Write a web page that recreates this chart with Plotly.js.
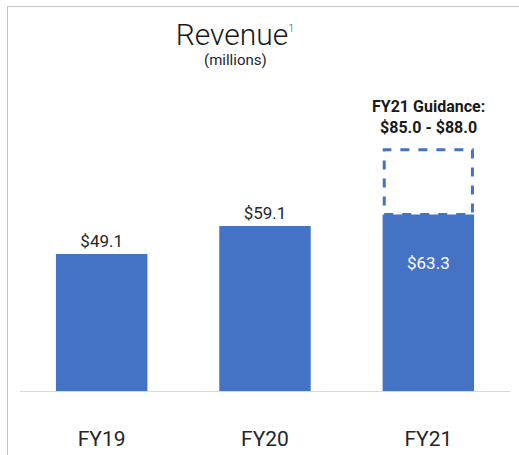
<!DOCTYPE html>
<html>
<head>
<meta charset="utf-8">
<script src="https://cdn.plot.ly/plotly-3.0.1.min.js"></script>
<style>
  html, body { margin: 0; padding: 0; background: #fff; }
  #wrap { position: relative; width: 519px; height: 455px; overflow: hidden; }
  #chart { position: absolute; left: 0; top: 0; width: 519px; height: 455px; }
  #frame { position: absolute; left: 7px; top: 6px; width: 520px; height: 460px;
           border-left: 1px solid #c4c4c4; border-top: 1px solid #c4c4c4; pointer-events: none; }
</style>
</head>
<body>
<div id="wrap">
  <div id="chart"></div>
  <div id="frame"></div>
</div>
<script>
// Data
const categories = ["FY19", "FY20", "FY21"];
const revenue = [49.1, 59.1, 63.3];
const revenueLabels = ["$49.1", "$59.1", "$63.3"];
const guidanceLow = 85.0;
const guidanceHigh = 88.0;
const guidanceCategory = "FY21";

const barColor = "#4472C4";
const font = "Roboto, 'Noto Sans', sans-serif";
const guidanceMid = (guidanceLow + guidanceHigh) / 2;
const guidanceIdx = categories.indexOf(guidanceCategory);
const barWidth = 0.56;

const trace = {
  type: "bar",
  x: categories,
  y: revenue,
  width: barWidth,
  marker: { color: barColor },
  text: revenueLabels,
  textposition: categories.map(c => c === guidanceCategory ? "none" : "outside"),
  textfont: { family: font, size: 17, color: "#262626" },
  cliponaxis: false,
  hoverinfo: "x+y"
};

const layout = {
  width: 519, height: 455,
  margin: { l: 20, r: 9, t: 112, b: 64 },
  paper_bgcolor: "#ffffff",
  plot_bgcolor: "#ffffff",
  showlegend: false,
  title: {
    text: "Revenue<sup><span style='font-size:11px;fill:#555'>1</span></sup>",
    font: { family: font, size: 30, color: "#1a1a1a", weight: 300 },
    xref: "container", yref: "container",
    x: 235 / 519, xanchor: "center",
    y: 1 - 34 / 455, yanchor: "middle"
  },
  xaxis: {
    type: "category",
    range: [-0.5, 2.5],
    showline: true, linecolor: "#d9d9d9", linewidth: 1,
    showgrid: false, zeroline: false,
    ticks: "",
    ticklabelstandoff: 29,
    tickfont: { family: font, size: 21, color: "#262626" }
  },
  yaxis: {
    range: [0, 100],
    visible: false,
    showgrid: false, zeroline: false, fixedrange: true
  },
  shapes: [{
    type: "rect",
    xref: "x", yref: "y",
    x0: guidanceIdx - barWidth / 2 + 0.01, x1: guidanceIdx + barWidth / 2 - 0.01,
    y0: revenue[guidanceIdx], y1: guidanceMid,
    line: { color: barColor, width: 3, dash: "dash" },
    fillcolor: "rgba(0,0,0,0)"
  }],
  annotations: [
    {
      text: "(millions)",
      xref: "paper", yref: "paper",
      x: (235 - 20) / 490, y: (391 - 60) / 279,
      xanchor: "center", yanchor: "middle",
      showarrow: false,
      font: { family: font, size: 15, color: "#262626" }
    },
    {
      text: "<b>FY21 Guidance:<br>$" + guidanceLow.toFixed(1) + " - $" + guidanceHigh.toFixed(1) + "</b>",
      xref: "x", yref: "y",
      x: guidanceCategory, y: guidanceMid,
      xanchor: "center", yanchor: "bottom",
      yshift: 11,
      showarrow: false,
      font: { family: font, size: 16, color: "#1a1a1a" }
    },
    {
      text: revenueLabels[guidanceIdx],
      xref: "x", yref: "y",
      x: guidanceCategory, y: revenue[guidanceIdx],
      xanchor: "center", yanchor: "middle",
      yshift: -49,
      showarrow: false,
      font: { family: font, size: 17, color: "#ffffff" }
    }
  ]
};

Plotly.newPlot("chart", [trace], layout, { displayModeBar: false, staticPlot: true });
</script>
</body>
</html>
